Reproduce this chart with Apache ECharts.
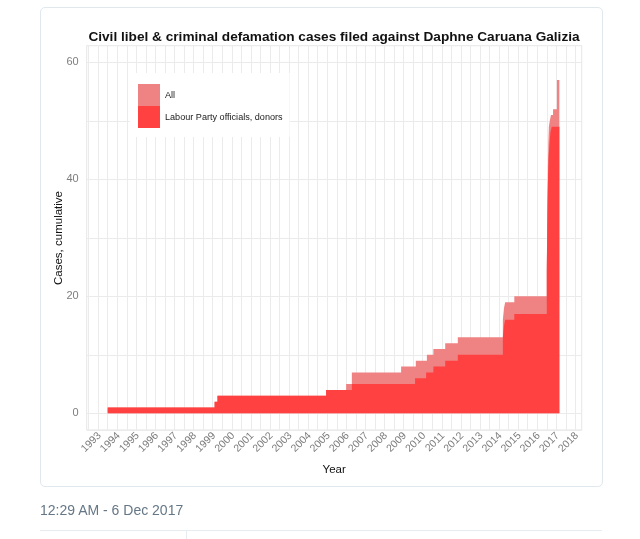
<!DOCTYPE html>
<html>
<head>
<meta charset="utf-8">
<script src="https://cdn.jsdelivr.net/npm/echarts@6/dist/echarts.min.js"></script>
<style>
  html, body { margin: 0; padding: 0; background: #ffffff; width: 640px; height: 539px; overflow: hidden; }
  #card { position: absolute; left: 40px; top: 7px; width: 561px; height: 478px; border: 1px solid #e1e8ed; border-radius: 5px; background: #fff; }
  #chart { position: absolute; left: 0; top: 0; width: 640px; height: 539px; }
  #stamp { position: absolute; left: 40px; top: 501px; font-family: "Liberation Sans", Arial, sans-serif; font-size: 14px; color: #657786; line-height: 18px; }
  #rule { position: absolute; left: 40px; top: 530px; width: 562px; height: 1px; background: #e6ecf0; }
  #vrule { position: absolute; left: 186px; top: 531px; width: 1px; height: 8px; background: #e6ecf0; }
</style>
</head>
<body>
<div id="card"></div>
<div id="chart"></div>
<div id="stamp">12:29 AM - 6 Dec 2017</div>
<div id="rule"></div>
<div id="vrule"></div>
<script>
// ---- data ----
const seriesNames = ['All', 'Labour Party officials, donors'];

const allDates = [1994.0, 1999.6, 1999.75, 2005.44, 2006.49, 2006.79, 2009.37, 2010.14, 2010.72, 2011.06, 2011.68, 2012.34, 2014.70, 2014.76, 2014.82, 2015.30, 2017.00, 2017.02, 2017.04, 2017.06, 2017.08, 2017.11, 2017.16, 2017.22, 2017.33, 2017.53, 2017.66];
const allCases = [1, 2, 3, 4, 5, 7, 8, 9, 10, 11, 12, 13, 16, 18, 19, 20, 25, 31, 37, 42, 46, 49, 50, 51, 52, 57, 57];

const labourDates = [1994.0, 1999.6, 1999.75, 2005.44, 2006.79, 2010.10, 2010.68, 2011.06, 2011.68, 2012.34, 2014.70, 2014.76, 2014.82, 2015.30, 2017.00, 2017.02, 2017.04, 2017.07, 2017.10, 2017.14, 2017.19, 2017.26, 2017.66];
const labourCases = [1, 2, 3, 4, 5, 6, 7, 8, 9, 10, 13, 15, 16, 17, 24, 30, 36, 41, 44, 46, 48, 49, 49];

const yearTicks = [1993, 1994, 1995, 1996, 1997, 1998, 1999, 2000, 2001, 2002, 2003, 2004, 2005, 2006, 2007, 2008, 2009, 2010, 2011, 2012, 2013, 2014, 2015, 2016, 2017, 2018];
const caseTicks = [0, 20, 40, 60];

// ---- layout ----
const xMin = 1992.9, xMax = 2018.83;
const yMin = -2.85, yMax = 62.85;
const labelShift = 0.57;
const colAll = '#ef8383';
const colLabour = '#ff4141';
const font = '"Liberation Sans", Arial, Helvetica, sans-serif';

function pairs(xs, ys) { return xs.map((x, i) => [x, ys[i]]); }

const chart = echarts.init(document.getElementById('chart'), null, { renderer: 'canvas' });
chart.setOption({
  animation: false,
  backgroundColor: 'transparent',
  textStyle: { fontFamily: font },
  graphic: [
    { type: 'text', x: 334, y: 37, style: { text: 'Civil libel & criminal defamation cases filed against Daphne Caruana Galizia', fill: '#111', font: 'bold 13.65px ' + font, textAlign: 'center', textVerticalAlign: 'middle' } },
    { type: 'text', x: 59, y: 238, rotation: Math.PI / 2, style: { text: 'Cases, cumulative', fill: '#111', font: '11.5px ' + font, textAlign: 'center', textVerticalAlign: 'middle' } }
  ],
  grid: { left: 86.7, right: 58.3, top: 45.7, bottom: 109, show: true, borderColor: '#e2e2e2', borderWidth: 1, backgroundColor: 'transparent' },
  legend: {
    data: seriesNames,
    orient: 'vertical',
    left: 130, top: 73,
    padding: [11, 7, 9, 8],
    backgroundColor: '#ffffff',
    icon: 'rect',
    itemWidth: 22, itemHeight: 22, itemGap: 0,
    textStyle: { fontSize: 9.1, color: '#1a1a1a', fontFamily: font }
  },
  xAxis: [
    {
      type: 'value', min: xMin, max: xMax, splitNumber: 52,
      axisLine: { show: false }, axisTick: { show: false },
      axisLabel: { show: false },
      splitLine: { show: true, lineStyle: { color: '#ebebeb', width: 1 } },
      name: 'Year', nameLocation: 'middle', nameGap: 34,
      nameTextStyle: { fontSize: 11.5, color: '#111', fontFamily: font }
    },
    {
      type: 'value', min: xMin - labelShift, max: xMax - labelShift, position: 'bottom',
      axisLine: { show: false }, axisTick: { show: false }, splitLine: { show: false },
      axisLabel: { customValues: yearTicks, rotate: 45, margin: 4, fontSize: 10.5, color: '#7d7d7d', fontFamily: font,
        formatter: function (v) { return String(Math.round(v)); } }
    }
  ],
  yAxis: {
    type: 'value', min: yMin, max: yMax, splitNumber: 7,
    axisLine: { show: false }, axisTick: { show: false },
    axisLabel: { customValues: caseTicks, margin: 8, fontSize: 11, color: '#7d7d7d', fontFamily: font },
    splitLine: { show: true, lineStyle: { color: '#ebebeb', width: 1 } }
  },
  series: [
    {
      name: seriesNames[0], type: 'line', step: 'end', symbol: 'none',
      color: colAll, lineStyle: { width: 0 },
      areaStyle: { color: colAll, opacity: 1 },
      data: pairs(allDates, allCases), z: 2
    },
    {
      name: seriesNames[1], type: 'line', step: 'end', symbol: 'none',
      color: colLabour, lineStyle: { width: 0 },
      areaStyle: { color: colLabour, opacity: 1 },
      data: pairs(labourDates, labourCases), z: 3
    }
  ]
});
</script>
</body>
</html>
